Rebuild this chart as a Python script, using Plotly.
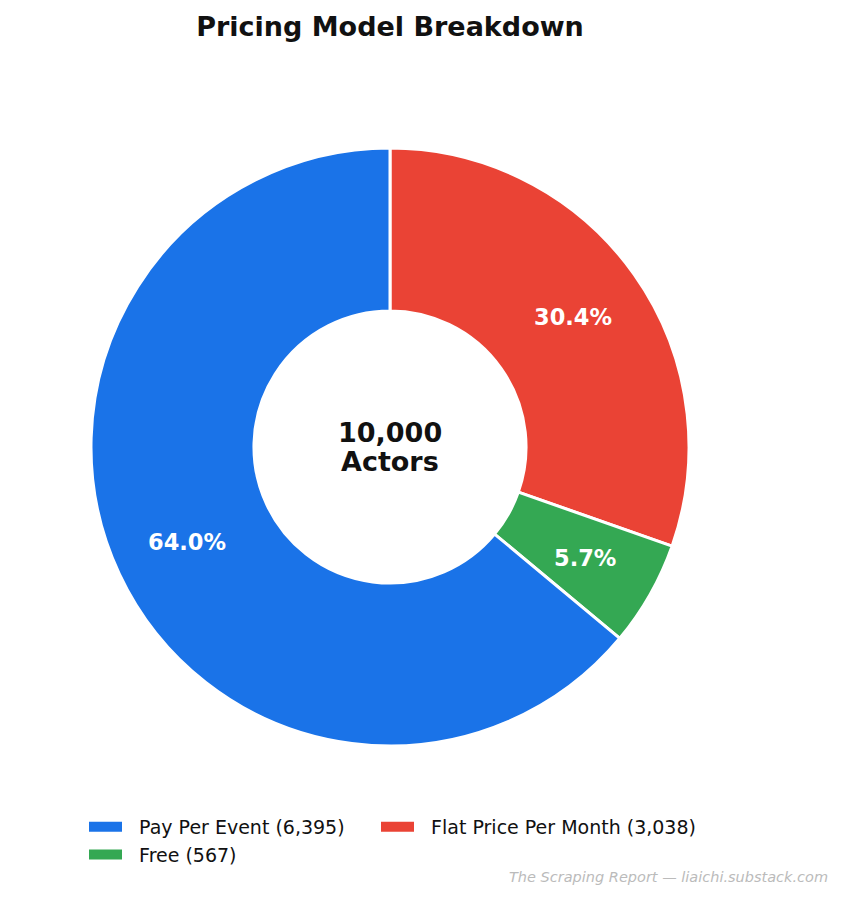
import math
import numpy as np
import plotly.graph_objects as go

categories = ["Pay Per Event", "Free", "Flat Price Per Month"]
counts = [6395, 567, 3038]
colors = ["#1a73e8", "#34a853", "#ea4335"]
total_line1 = "10,000"
total_line2 = "Actors"
title_text = "Pricing Model Breakdown"
footer_text = "The Scraping Report — liaichi.substack.com"

W, H = 846, 900
FONT = "DejaVu Sans"
NB = "\u00a0\u00a0"

# pie geometry (pixels)
CX, CY, R = 390, 447, 299
PCT_DIST = 0.75

vals32 = np.asarray(counts).astype(np.float32)
fracs = vals32 / vals32.sum()
pct_text = ["%1.1f%%" % (100.0 * f) for f in fracs]

# draw clockwise from 12 o'clock in reverse order (same as counter-clockwise in data order)
order = list(reversed(range(len(categories))))

fig = go.Figure()
fig.add_trace(go.Pie(
    labels=[categories[i] for i in order],
    values=[counts[i] for i in order],
    marker=dict(colors=[colors[i] for i in order], line=dict(color="white", width=3)),
    hole=0.455,
    sort=False,
    direction="clockwise",
    rotation=0,
    textinfo="none",
    showlegend=False,
    hoverinfo="label+value+percent",
    domain=dict(x=[(CX - R) / W, (CX + R) / W], y=[1 - (CY + R) / H, 1 - (CY - R) / H]),
))

legend_ids = ["legend", "legend", "legend2"]
for i in range(len(categories)):
    fig.add_trace(go.Scatter(
        x=[None], y=[None], mode="lines",
        line=dict(color=colors[i], width=10),
        name=f"{NB}{categories[i]} ({counts[i]:,})",
        showlegend=True,
        legend=legend_ids[i],
    ))

# percentage labels placed at the middle angle of each wedge
annotations = []
cum = 0.0
for i, f in enumerate(fracs):
    theta = math.radians(90 + 360.0 * (cum + f / 2.0))
    cum += float(f)
    px = CX + PCT_DIST * R * math.cos(theta)
    py = CY - PCT_DIST * R * math.sin(theta)
    annotations.append(dict(
        text=pct_text[i], x=px / W, y=1 - py / H, xref="paper", yref="paper",
        xanchor="center", yanchor="middle", showarrow=False,
        font=dict(family=FONT, size=22.5, color="white", weight="bold")))

annotations += [
    dict(text=total_line1, x=CX / W, y=1 - 432 / H, xref="paper", yref="paper",
         yanchor="middle", showarrow=False,
         font=dict(family=FONT, size=27, color="#111111", weight="bold")),
    dict(text=total_line2, x=CX / W, y=1 - 461 / H, xref="paper", yref="paper",
         yanchor="middle", showarrow=False,
         font=dict(family=FONT, size=27, color="#111111", weight="bold")),
    dict(text=footer_text, x=830 / W, y=1 - 877 / H, xref="paper", yref="paper",
         xanchor="right", yanchor="middle", showarrow=False,
         font=dict(family=FONT, size=14.5, color="#bbbbbb", style="italic")),
]

legend_common = dict(orientation="v", xanchor="left", y=1 - 808 / H, yanchor="top",
                     font=dict(family=FONT, size=19, color="#111111"),
                     itemwidth=33, bgcolor="rgba(0,0,0,0)", traceorder="normal",
                     tracegroupgap=0)

fig.update_layout(
    width=W, height=H,
    margin=dict(l=0, r=0, t=0, b=0),
    paper_bgcolor="white", plot_bgcolor="white",
    xaxis=dict(visible=False), yaxis=dict(visible=False),
    font=dict(family=FONT, color="#111111"),
    title=dict(text=title_text, x=CX / W, xref="container", xanchor="center",
               y=1 - 27 / H, yref="container", yanchor="middle",
               font=dict(family=FONT, size=27, color="#111111", weight="bold")),
    legend=dict(x=84 / W, **legend_common),
    legend2=dict(x=376 / W, **legend_common),
    annotations=annotations,
)

fig.write_html("out.html")
